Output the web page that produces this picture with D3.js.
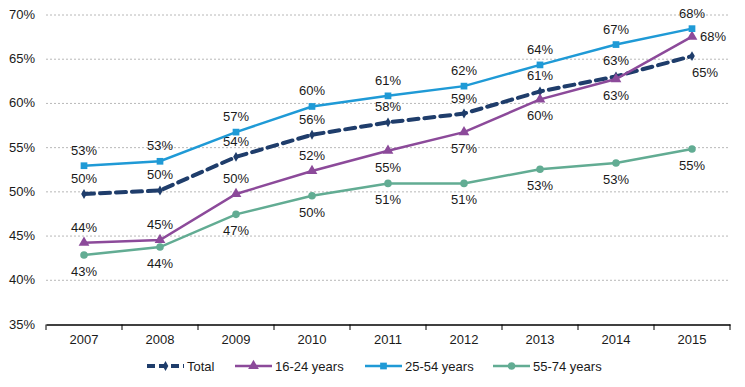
<!DOCTYPE html>
<html>
<head>
<meta charset="utf-8">
<script src="https://cdn.jsdelivr.net/npm/d3@7"></script>
<style>
  body { margin: 0; background: #fff; }
  svg text { font-family: "Liberation Sans", Arial, sans-serif; fill: #1a1a1a; }
</style>
</head>
<body>
<div id="chart"></div>
<script>
(function () {
    const years = ["2007", "2008", "2009", "2010", "2011", "2012", "2013", "2014", "2015"];
    const yTicks = [35, 40, 45, 50, 55, 60, 65, 70];

    const total = [49.7, 50.1, 53.9, 56.4, 57.8, 58.8, 61.3, 63.0, 65.3];
    const young = [44.2, 44.5, 49.7, 52.3, 54.6, 56.7, 60.4, 62.7, 67.5];
    const prime = [52.9, 53.4, 56.7, 59.6, 60.8, 61.9, 64.3, 66.6, 68.4];
    const older = [42.8, 43.7, 47.4, 49.5, 50.9, 50.9, 52.5, 53.2, 54.8];

    // where each value label sits: a = above, b = below, r = right
    const totalPos = ["a", "a", "a", "a", "a", "a", "a", "a", "b"];
    const youngPos = ["a", "a", "a", "a", "b", "b", "b", "b", "r"];
    const primePos = ["a", "a", "a", "a", "a", "a", "a", "a", "a"];
    const olderPos = ["b", "b", "b", "b", "b", "b", "b", "b", "b"];

    const series = [
        { name: "Total", values: total, pos: totalPos, color: "#1f3d6b", marker: "diamond", dash: "10,6", width: 4 },
        { name: "16-24 years", values: young, pos: youngPos, color: "#8c4a9a", marker: "triangle", dash: null, width: 2.5 },
        { name: "25-54 years", values: prime, pos: primePos, color: "#1f9ad6", marker: "square", dash: null, width: 2.5 },
        { name: "55-74 years", values: older, pos: olderPos, color: "#62ac93", marker: "circle", dash: null, width: 2.5 }
    ];

    const w = 745, h = 387;
    const fs = 13;
    const svg = d3.select("#chart").append("svg").attr("width", w).attr("height", h);

    const x = d3.scaleBand().domain(years).range([46, 730]);
    const y = d3.scaleLinear().domain([35, 70]).range([324, 14.5]);
    const cx = d => x(d) + x.bandwidth() / 2;

    // gridlines
    svg.append("g").selectAll("line")
        .data(yTicks.filter(t => t > 35))
        .enter().append("line")
        .attr("x1", 46).attr("x2", 730)
        .attr("y1", d => y(d) + 0.5).attr("y2", d => y(d) + 0.5)
        .attr("stroke", "#b8b8b8").attr("stroke-dasharray", "2,2");

    // y labels
    svg.append("g").selectAll("text")
        .data(yTicks)
        .enter().append("text")
        .attr("x", 35).attr("y", d => y(d) + 4.5)
        .attr("text-anchor", "end").attr("font-size", fs)
        .text(d => d + "%");

    // x axis
    const xAxis = d3.axisBottom(x).tickSize(0).tickPadding(10);
    const gx = svg.append("g").attr("transform", "translate(0,324.5)").call(xAxis);
    gx.select(".domain").attr("stroke", "#000").attr("stroke-width", 1.3);
    gx.selectAll(".tick text").attr("font-size", fs).attr("font-family", "Liberation Sans, Arial, sans-serif").attr("fill", "#1a1a1a");
    svg.append("g").selectAll("line")
        .data(d3.range(years.length + 1))
        .enter().append("line")
        .attr("x1", i => 46 + i * x.step()).attr("x2", i => 46 + i * x.step())
        .attr("y1", 324.5).attr("y2", 330)
        .attr("stroke", "#000");

    const symbolFor = {
        diamond: d3.symbol().type(d3.symbolDiamond).size(28),
        triangle: d3.symbol().type(d3.symbolTriangle).size(50),
        square: d3.symbol().type(d3.symbolSquare).size(45),
        circle: d3.symbol().type(d3.symbolCircle).size(45)
    };

    const line = d3.line().x((d, i) => cx(years[i])).y(d => y(d));

    series.forEach(s => {
        const g = svg.append("g");
        g.append("path")
            .attr("d", line(s.values))
            .attr("fill", "none")
            .attr("stroke", s.color)
            .attr("stroke-width", s.width)
            .attr("stroke-dasharray", s.dash)
            .attr("stroke-linecap", s.dash ? "round" : "butt");
        g.selectAll("path.m")
            .data(s.values)
            .enter().append("path")
            .attr("class", "m")
            .attr("transform", (d, i) => `translate(${cx(years[i])},${y(d)})`)
            .attr("d", symbolFor[s.marker])
            .attr("fill", s.color);
        g.selectAll("text")
            .data(s.values)
            .enter().append("text")
            .attr("font-size", fs)
            .attr("text-anchor", (d, i) => s.pos[i] === "r" ? "start" : "middle")
            .attr("x", (d, i) => cx(years[i]) + (s.pos[i] === "r" ? 8 : (s.name === "Total" && s.pos[i] === "b" ? 13 : 0)))
            .attr("y", (d, i) => {
                const p = s.pos[i];
                if (p === "a") return y(d) - 11;
                if (p === "b") return y(d) + 21;
                return y(d) + 4;
            })
            .text(d => Math.round(d) + "%");
    });

    // legend
    const legendX = [147, 235, 365, 493];
    const leg = svg.append("g").attr("transform", "translate(0,366)");
    series.forEach((s, i) => {
        const x0 = legendX[i], x1 = x0 + 37;
        leg.append("line")
            .attr("x1", x0).attr("x2", x1)
            .attr("stroke", s.color).attr("stroke-width", s.width)
            .attr("stroke-dasharray", s.dash ? "8,4" : null);
        leg.append("path")
            .attr("transform", `translate(${(x0 + x1) / 2},0)`)
            .attr("d", symbolFor[s.marker])
            .attr("fill", s.color);
        leg.append("text")
            .attr("x", x1 + 3).attr("y", 4.5)
            .attr("font-size", fs)
            .text(s.name);
    });
})();
</script>
</body>
</html>
